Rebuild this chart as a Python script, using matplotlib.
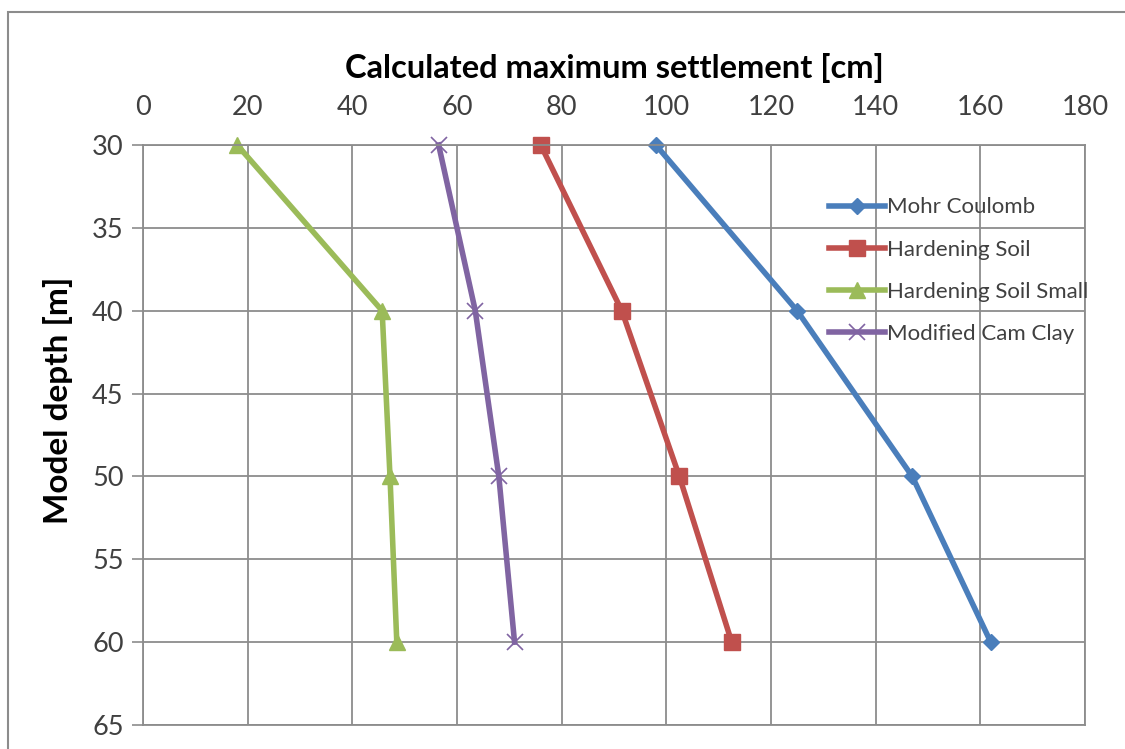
import numpy as np
import matplotlib.pyplot as plt
from matplotlib.patches import Rectangle

# depth of model [m] and calculated settlement [cm]
depth = [30, 40, 50, 60]
mohr_coulomb = [98, 125, 147, 162]
hardening_soil = [76, 91.5, 102.5, 112.5]
hardening_soil_small = [18, 45.7, 47.2, 48.5]
modified_cam_clay = [56.5, 63.5, 68, 71]

x_ticks = np.arange(0, 181, 20)
y_ticks = np.arange(30, 66, 5)

plt.rcParams['font.family'] = ['Lato', 'DejaVu Sans']

fig = plt.figure(figsize=(11.25, 7.49), dpi=100)
ax = fig.add_axes([0.1271, 0.032, 0.9644 - 0.1271, 0.8064 - 0.032])

# outer chart border
fig.patches.append(Rectangle((0.007, -0.5), 2, 0.984 + 0.5, transform=fig.transFigure,
                             fill=False, edgecolor='#8c8c8c', linewidth=1.5))

ax.plot(mohr_coulomb, depth, color='#4A7EBB', lw=4, marker='D', ms=8, label='Mohr Coulomb', clip_on=False)
ax.plot(hardening_soil, depth, color='#C0504D', lw=4, marker='s', ms=11, label='Hardening Soil', clip_on=False)
ax.plot(hardening_soil_small, depth, color='#9BBB59', lw=4, marker='^', ms=12,
        label='Hardening Soil Small', clip_on=False)
ax.plot(modified_cam_clay, depth, color='#8064A2', lw=4, marker='x', ms=12, mew=1.2,
        label='Modified Cam Clay', clip_on=False)

ax.set_xlim(0, 180)
ax.set_ylim(65, 30)
ax.set_xticks(x_ticks)
ax.set_yticks(y_ticks)
ax.xaxis.tick_top()
ax.xaxis.set_label_position('top')
ax.tick_params(axis='x', length=0, labelsize=19.5, pad=18, colors='#404040')
ax.tick_params(axis='y', length=8, width=1.2, labelsize=19.5, pad=6, colors='#8c8c8c', labelcolor='#404040')
ax.grid(True, color='#8c8c8c', lw=1.3)
ax.set_axisbelow(True)
for s in ax.spines.values():
    s.set_color('#8c8c8c')
    s.set_linewidth(1.3)

ax.set_xlabel('Calculated maximum settlement [cm]', fontsize=23.5, fontweight='bold', labelpad=12)
ax.set_ylabel('Model depth [m]', fontsize=24, fontweight='bold', labelpad=12)
ax.yaxis.set_label_coords(-0.074, 0.56)

leg = ax.legend(loc='upper right', bbox_to_anchor=(1.013, 0.925), frameon=False, fontsize=16,
                handlelength=2.5, handletextpad=0.1, labelspacing=1.0, borderaxespad=0)
for t in leg.get_texts():
    t.set_color('#404040')

fig.savefig('out.png', dpi=100)
